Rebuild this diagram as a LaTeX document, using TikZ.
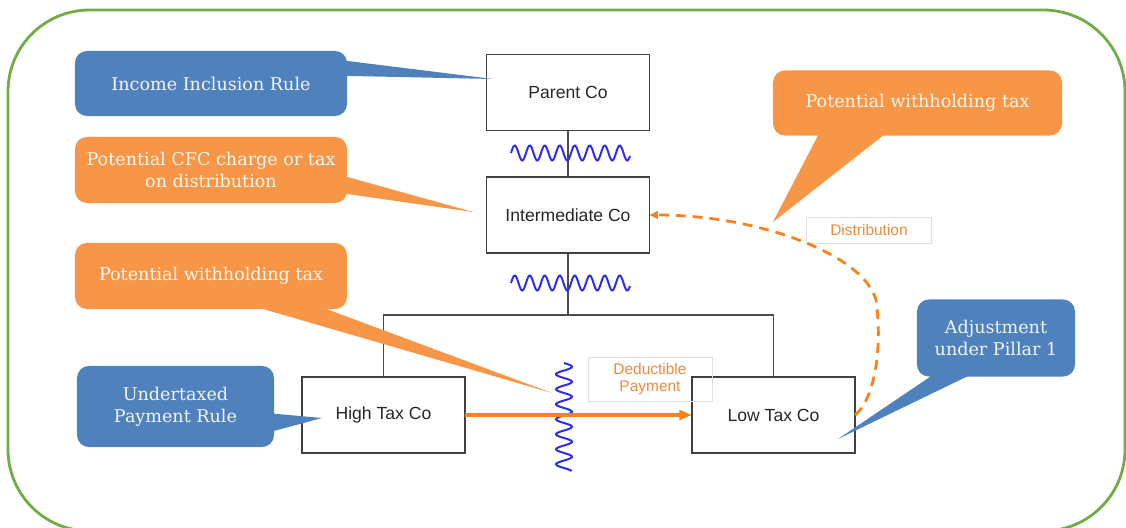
\documentclass[tikz,border=0pt]{standalone}
\usepackage{fontspec}
\newfontfamily\calloutfont{DejaVu Serif}
\newfontfamily\boxfont{Liberation Sans}
\usepackage{tikz}
\usetikzlibrary{arrows.meta,positioning,calc}
\definecolor{framegreen}{HTML}{70AD47}
\definecolor{callblue}{HTML}{4F81BD}
\definecolor{callorange}{HTML}{F79646}
\definecolor{payorange}{HTML}{F8821E}
\definecolor{tagorange}{HTML}{EE8A3E}
\definecolor{waveblue}{HTML}{2B2BF2}
\tikzset{
  frame/.style={draw=framegreen, line width=2pt, rounded corners=58pt},
  entity/.style={draw=black!75, line width=1pt, fill=white, minimum width=4.075cm, minimum height=1.9cm,
    inner sep=0pt, outer sep=0pt, text=black!85, font=\boxfont\fontsize{12.5}{15}\selectfont},
  callout/.style={rounded corners=8.5pt, inner sep=0pt, align=center, font=\calloutfont\fontsize{12.5}{15.5}\selectfont},
  bluecall/.style={callout, fill=callblue, text=white!92!callblue},
  orangecall/.style={callout, fill=callorange, text=white!92!callorange},
  tag/.style={draw=black!12, text=tagorange, align=center, inner sep=0pt, font=\boxfont\fontsize{11}{12.5}\selectfont},
  tree/.style={draw=black!70, line width=0.9pt},
  wave/.style={draw=waveblue, line width=1.4pt},
  pay/.style={-{Triangle[length=9pt,width=7pt]}, line width=2.2pt, draw=payorange, fill=payorange},
  dist/.style={-{Triangle[length=6pt,width=5.5pt]}, line width=2pt, draw=payorange, dash pattern=on 7pt off 5pt}
}
\begin{document}
\begin{tikzpicture}[x=0.025cm, y=-0.025cm]
  \useasboundingbox (0,0) rectangle (1126,527);
  % Frame
  \draw[frame] (8,10) rectangle (1125,531);
  % Ownership lines
  \coordinate (split) at (568,315);
  \node[entity] (parent) at (568,92.5) {Parent Co};
  \node[entity] (inter) at (568,215) {Intermediate Co};
  \node[entity] (high) at (383.5,415) {High Tax Co};
  \node[entity] (low) at (773.5,415) {Low Tax Co};
  \draw[tree] (parent.south) -- (inter.north);
  \draw[tree] (inter.south) -- (split);
  \draw[tree] (high.north) |- (split) -| (low.north);
  % Waves
  \draw[wave] plot[domain=511:630, samples=120] (\x, {153-7.5*sin(24*(\x-511))});
  \draw[wave] plot[domain=511:630, samples=120] (\x, {283-7.5*sin(24*(\x-511))});
  \draw[wave] plot[domain=363:471, samples=120] ({564+8*sin(24*(\x-363))}, \x);
  % Payment and distribution
  \draw[pay] (high.east) -- (low.west);
  \node[tag, minimum width=3.1cm, minimum height=1.1cm] (deduct) at (650,379) {Deductible\\Payment};
  \node[tag, minimum width=3.125cm, minimum height=0.65cm] (distr) at (869,230) {Distribution};
  \coordinate (bend) at (876,300);
  \draw[dist] (low.east) .. controls +(22,-18) and +(6,40) .. (bend)
    .. controls +(-12,-45) and +(110,0) .. (inter.east);
  % Callouts
  \node[bluecall, minimum width=6.8cm, minimum height=1.625cm] (iir) at (211,83.5) {Income Inclusion Rule};
  \coordinate (iirtip) at (493,79);
  \fill[callblue] ($(iir.north east)+(-10,9)$) -- (iirtip) -- ($(iir.north east)+(-10,25)$) -- cycle;
  \node[orangecall, minimum width=6.8cm, minimum height=1.65cm] (cfc) at (211,170) {Potential CFC charge or tax\\on distribution};
  \coordinate (cfctip) at (473,212);
  \fill[callorange] ($(cfc.east)+(-7,5)$) -- (cfctip) -- ($(cfc.east)+(-7,23)$) -- cycle;
  \node[orangecall, minimum width=6.8cm, minimum height=1.65cm] (whtleft) at (211,276) {Potential withholding tax};
  \coordinate (whtlefttip) at (552,393);
  \fill[callorange] ($(whtleft.south)+(22,-9)$) -- (whtlefttip) -- ($(whtleft.south)+(92,-9)$) -- cycle;
  \node[orangecall, minimum width=7.225cm, minimum height=1.625cm] (whtright) at (917.5,103) {Potential withholding tax};
  \coordinate (whtrighttip) at (773,222);
  \fill[callorange] ($(whtright.south)+(-95.5,-8)$) -- (whtrighttip) -- ($(whtright.south)+(-24.5,-8)$) -- cycle;
  \node[bluecall, minimum width=4.925cm, minimum height=2.025cm] (utpr) at (175.5,406.5) {Undertaxed\\Payment Rule};
  \coordinate (utprtip) at (322,418);
  \fill[callblue] ($(utpr.east)+(-8,6.5)$) -- (utprtip) -- ($(utpr.east)+(-8,26.5)$) -- cycle;
  \node[bluecall, minimum width=3.95cm, minimum height=1.925cm] (pillar) at (996,338) {Adjustment\\under Pillar 1};
  \coordinate (pillartip) at (838,439);
  \fill[callblue] ($(pillar.south)+(-54,-8)$) -- (pillartip) -- ($(pillar.south)+(-13,-8)$) -- cycle;
\end{tikzpicture}
\end{document}
